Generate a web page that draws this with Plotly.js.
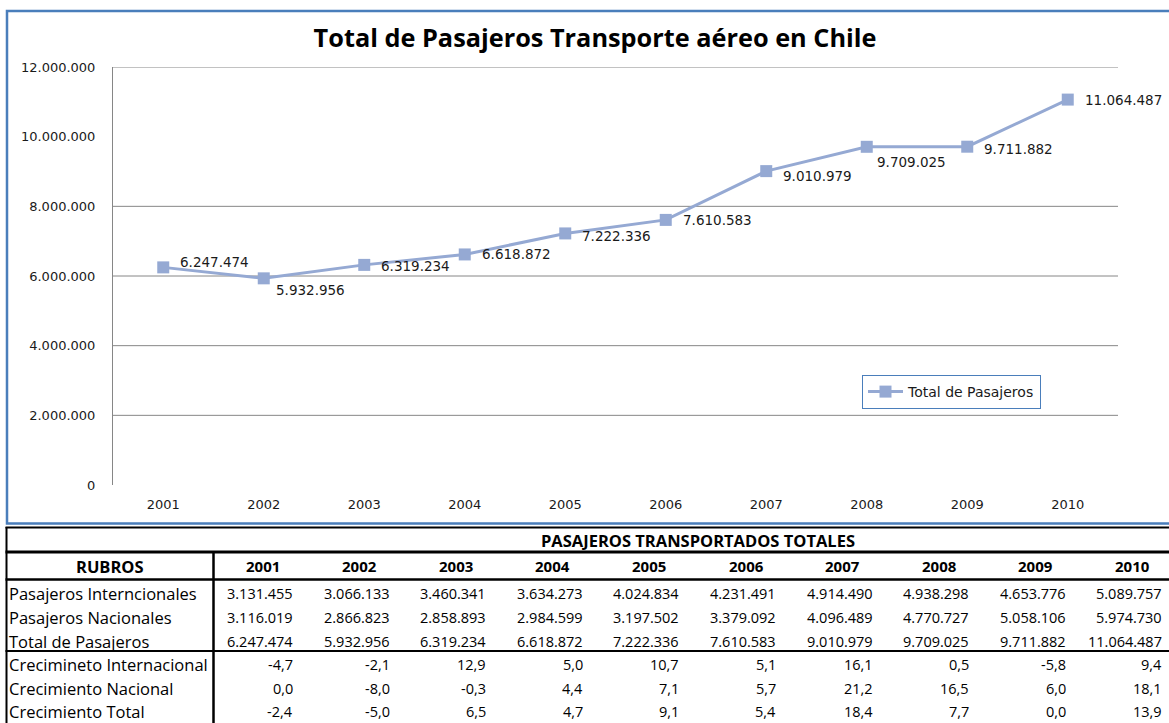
<!DOCTYPE html>
<html>
<head>
<meta charset="utf-8">
<script src="https://cdn.plot.ly/plotly-3.0.1.min.js"></script>
<style>
  html, body { margin: 0; padding: 0; background: #ffffff; }
  #chart { width: 1169px; height: 723px; }
</style>
</head>
<body>
<div id="chart"></div>
<script>
// ---------------- DATA ----------------
const years = ['2001', '2002', '2003', '2004', '2005', '2006', '2007', '2008', '2009', '2010'];
const totalPasajeros = [6247474, 5932956, 6319234, 6618872, 7222336, 7610583, 9010979, 9709025, 9711882, 11064487];
const pasajerosInternacionales = [3131455, 3066133, 3460341, 3634273, 4024834, 4231491, 4914490, 4938298, 4653776, 5089757];
const pasajerosNacionales = [3116019, 2866823, 2858893, 2984599, 3197502, 3379092, 4096489, 4770727, 5058106, 5974730];
const crecimientoInternacional = [-4.7, -2.1, 12.9, 5.0, 10.7, 5.1, 16.1, 0.5, -5.8, 9.4];
const crecimientoNacional = [0.0, -8.0, -0.3, 4.4, 7.1, 5.7, 21.2, 16.5, 6.0, 18.1];
const crecimientoTotal = [-2.4, -5.0, 6.5, 4.7, 9.1, 5.4, 18.4, 7.7, 0.0, 13.9];
const yTickValues = [0, 2000000, 4000000, 6000000, 8000000, 10000000, 12000000];
const gridValues = [2000000, 4000000, 6000000, 8000000, 12000000];
const chartTitle = 'Total de Pasajeros Transporte aéreo en Chile';
const seriesName = 'Total de Pasajeros';
const tableTitle = 'PASAJEROS TRANSPORTADOS TOTALES';
const tableHeader = 'RUBROS';
const countRowLabels = ['Pasajeros Interncionales', 'Pasajeros Nacionales', 'Total de Pasajeros'];
const growthRowLabels = ['Crecimineto Internacional', 'Crecimiento Nacional', 'Crecimiento Total'];

// ---------------- STYLE / LAYOUT CONSTANTS ----------------
const W = 1169, H = 723;
const lineColor = '#95A9D3';
const boxBlue = '#4A7EBB';
const chartFont = 'DejaVu Sans';
const tableFont = 'Open Sans';
const labelDx = [15, 10, 15, 15, 15, 15, 15, 8, 15, 15];
const labelDy = [5, -12, -1, 0, -3, 0, -5, -15, -2, 0];

function fmtInt(v) { return String(v).replace(/\B(?=(\d{3})+(?!\d))/g, '.'); }
function fmtDec(v) { return v.toFixed(1).replace('.', ','); }

// ---------------- TRACES ----------------
const mainTrace = {
  type: 'scatter', mode: 'lines+markers', name: seriesName,
  x: years, y: totalPasajeros, xaxis: 'x', yaxis: 'y',
  line: { color: lineColor, width: 3 },
  marker: { symbol: 'square', size: 12, color: lineColor },
  hoverinfo: 'skip'
};
const helperTrace = {
  type: 'scatter', mode: 'markers', x: [0], y: [0], xaxis: 'x2', yaxis: 'y2',
  marker: { opacity: 0 }, showlegend: false, hoverinfo: 'skip'
};

// ---------------- SHAPES ----------------
const shapes = [];
gridValues.forEach(v => shapes.push({
  type: 'line', xref: 'x', yref: 'y', x0: -0.5, x1: 9.5, y0: v, y1: v,
  line: { color: '#868686', width: 1 }, layer: 'below'
}));
// chart frame
shapes.push({ type: 'rect', xref: 'x2', yref: 'y2', x0: 7, x1: 1200, y0: 11, y1: 523.5,
  line: { color: boxBlue, width: 2.5 }, layer: 'above' });
// table rules
const tblLines = [
  { x0: 5.5, x1: 1200, y0: 527.5, y1: 527.5, w: 2 },
  { x0: 5.5, x1: 1200, y0: 552, y1: 552, w: 3 },
  { x0: 5.5, x1: 1200, y0: 579.5, y1: 579.5, w: 2.5 },
  { x0: 5.5, x1: 1200, y0: 651, y1: 651, w: 2 },
  { x0: 6.5, x1: 6.5, y0: 527, y1: 730, w: 2 },
  { x0: 213.5, x1: 213.5, y0: 552, y1: 730, w: 2.5 }
];
tblLines.forEach(l => shapes.push({ type: 'line', xref: 'x2', yref: 'y2',
  x0: l.x0, x1: l.x1, y0: l.y0, y1: l.y1, line: { color: '#000', width: l.w }, layer: 'above' }));

// ---------------- ANNOTATIONS ----------------
const annotations = [];
// data labels (category index positions)
years.forEach((yr, i) => annotations.push({
  xref: 'x', yref: 'y', x: i, y: totalPasajeros[i], text: fmtInt(totalPasajeros[i]),
  showarrow: false, xanchor: 'left', yanchor: 'middle', xshift: labelDx[i], yshift: labelDy[i],
  font: { family: chartFont, size: 13.5, color: '#1a1a1a' }
}));

// table
const firstYearColLeft = 214.7, yearColWidth = 96.6;
const colCenter = k => firstYearColLeft + yearColWidth * (k + 0.5);
const rowY = { title: 540, header: 566, counts: [593, 617, 641], growth: [664, 688, 711] };
const textFont = { family: tableFont, size: 16.5, color: '#000' };
const headFont = { family: tableFont, size: 15, color: '#000' };
const numFont = { family: tableFont, size: 14.5, color: '#000' };

annotations.push({ xref: 'x2', yref: 'y2', x: (firstYearColLeft + colCenter(9) + yearColWidth / 2) / 2, y: rowY.title,
  text: '<b>' + tableTitle + '</b>', showarrow: false, xanchor: 'center', yanchor: 'middle', font: textFont });
annotations.push({ xref: 'x2', yref: 'y2', x: 110, y: rowY.header,
  text: '<b>' + tableHeader + '</b>', showarrow: false, xanchor: 'center', yanchor: 'middle', font: textFont });
years.forEach((yr, k) => annotations.push({ xref: 'x2', yref: 'y2', x: colCenter(k), y: rowY.header,
  text: '<b>' + yr + '</b>', showarrow: false, xanchor: 'center', yanchor: 'middle', font: headFont }));

const countRows = [pasajerosInternacionales, pasajerosNacionales, totalPasajeros];
const growthRows = [crecimientoInternacional, crecimientoNacional, crecimientoTotal];
countRowLabels.forEach((lab, r) => {
  annotations.push({ xref: 'x2', yref: 'y2', x: 7, y: rowY.counts[r], text: lab, showarrow: false,
    xanchor: 'left', yanchor: 'middle', font: textFont });
  countRows[r].forEach((v, k) => annotations.push({ xref: 'x2', yref: 'y2', x: colCenter(k) + 32, y: rowY.counts[r],
    text: fmtInt(v), showarrow: false, xanchor: 'right', yanchor: 'middle', font: numFont }));
});
growthRowLabels.forEach((lab, r) => {
  annotations.push({ xref: 'x2', yref: 'y2', x: 7, y: rowY.growth[r], text: lab, showarrow: false,
    xanchor: 'left', yanchor: 'middle', font: textFont });
  growthRows[r].forEach((v, k) => annotations.push({ xref: 'x2', yref: 'y2', x: colCenter(k) + 32, y: rowY.growth[r],
    text: fmtDec(v), showarrow: false, xanchor: 'right', yanchor: 'middle', font: numFont }));
});

// ---------------- LAYOUT ----------------
const tickFont = { family: chartFont, size: 13, color: '#1a1a1a' };
const layout = {
  width: W, height: H,
  margin: { l: 0, r: 0, t: 0, b: 0, pad: 0 },
  paper_bgcolor: '#ffffff', plot_bgcolor: 'rgba(0,0,0,0)',
  separators: ',.',
  title: { text: '<b>' + chartTitle + '</b>', x: 595 / W, xanchor: 'center', xref: 'paper',
    y: 1 - 38 / H, yanchor: 'middle', yref: 'paper',
    font: { family: 'Open Sans', size: 25.3, color: '#000' } },
  showlegend: true,
  legend: { x: 862 / W, y: 1 - 375 / H, xanchor: 'left', yanchor: 'top',
    bordercolor: boxBlue, borderwidth: 1, bgcolor: '#ffffff', itemwidth: 35,
    font: { family: chartFont, size: 14, color: '#1a1a1a' } },
  xaxis: { type: 'category', domain: [113 / W, 1118 / W], range: [-0.5, 9.5], anchor: 'y',
    showgrid: false, showline: false, zeroline: false, ticks: '', ticklabelstandoff: 10,
    tickfont: tickFont, fixedrange: true },
  yaxis: { domain: [1 - 485 / H, 1 - 67 / H], range: [0, 12000000], anchor: 'x',
    tickvals: yTickValues, tickformat: ',d', showgrid: false, zeroline: false,
    showline: true, linecolor: '#868686', linewidth: 1, ticks: '', ticklabelstandoff: 14,
    tickfont: tickFont, fixedrange: true },
  xaxis2: { domain: [0, 1], range: [0, W], anchor: 'y2', visible: false, fixedrange: true },
  yaxis2: { domain: [0, 1], range: [H, 0], anchor: 'x2', visible: false, fixedrange: true },
  shapes: shapes,
  annotations: annotations
};

Plotly.newPlot('chart', [mainTrace, helperTrace], layout, { staticPlot: true, displayModeBar: false });
</script>
</body>
</html>
